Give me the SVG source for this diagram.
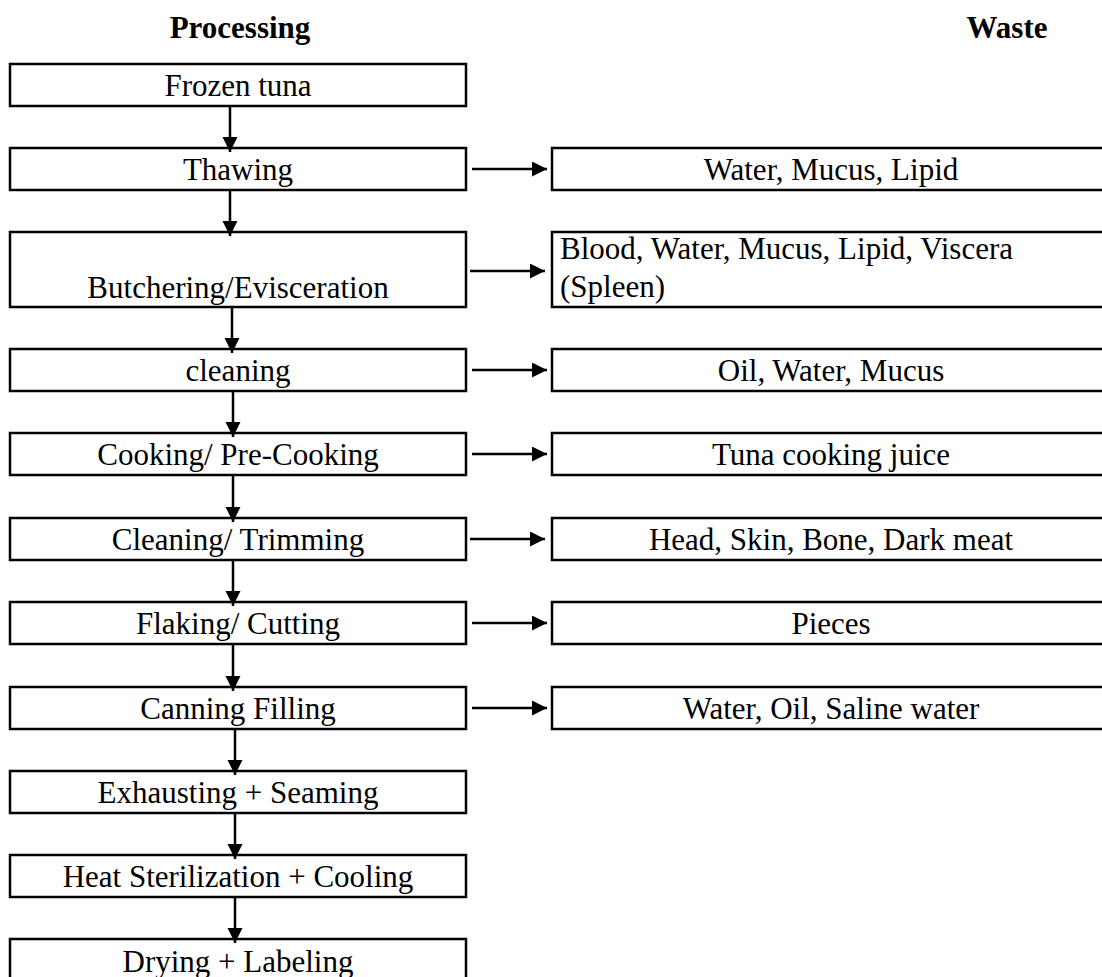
<svg xmlns="http://www.w3.org/2000/svg" width="1102" height="977" viewBox="0 0 1102 977">
<style>
.box{fill:#fff;stroke:#000;stroke-width:2.5}
.t{font-family:'Liberation Serif','Times New Roman','DejaVu Serif',serif;font-size:31px;fill:#000}
.c{text-anchor:middle}
.h{font-weight:bold}
.ln{stroke:#000;stroke-width:2.5;fill:none}
</style>
<defs>
<marker id="ah" markerUnits="userSpaceOnUse" markerWidth="16" markerHeight="16" refX="15" refY="7.5" orient="auto">
<path d="M0,0 L15,7.5 L0,15 Z" fill="#000"/>
</marker>
</defs>
<rect width="1102" height="977" fill="#fff"/>
<text class="t c h" x="240" y="38">Processing</text>
<text class="t c h" x="1007" y="38">Waste</text>
<g id="n1"><rect class="box" x="10" y="64" width="456" height="42"/><text class="t c" x="238" y="96">Frozen tuna</text></g>
<g id="n2"><rect class="box" x="10" y="148" width="456" height="42"/><text class="t c" x="238" y="180">Thawing</text></g>
<g id="n3"><rect class="box" x="10" y="232" width="456" height="75"/><text class="t c" x="238" y="298">Butchering/Evisceration</text></g>
<g id="n4"><rect class="box" x="10" y="349" width="456" height="42"/><text class="t c" x="238" y="381">cleaning</text></g>
<g id="n5"><rect class="box" x="10" y="433" width="456" height="42"/><text class="t c" x="238" y="465">Cooking/ Pre-Cooking</text></g>
<g id="n6"><rect class="box" x="10" y="518" width="456" height="42"/><text class="t c" x="238" y="550">Cleaning/ Trimming</text></g>
<g id="n7"><rect class="box" x="10" y="602" width="456" height="42"/><text class="t c" x="238" y="634">Flaking/ Cutting</text></g>
<g id="n8"><rect class="box" x="10" y="687" width="456" height="42"/><text class="t c" x="238" y="719">Canning Filling</text></g>
<g id="n9"><rect class="box" x="10" y="771" width="456" height="42"/><text class="t c" x="238" y="803">Exhausting + Seaming</text></g>
<g id="n10"><rect class="box" x="10" y="855" width="456" height="42"/><text class="t c" x="238" y="887">Heat Sterilization + Cooling</text></g>
<g id="n11"><rect class="box" x="10" y="939" width="456" height="42"/><text class="t c" x="238" y="972">Drying + Labeling</text></g>
<g id="w1"><rect class="box" x="552" y="148" width="560" height="42"/><text class="t c" x="831" y="180">Water, Mucus, Lipid</text></g>
<g id="w2"><rect class="box" x="552" y="232" width="560" height="75"/><text class="t" x="560" y="259">Blood, Water, Mucus, Lipid, Viscera</text><text class="t" x="560" y="297">(Spleen)</text></g>
<g id="w3"><rect class="box" x="552" y="349" width="560" height="42"/><text class="t c" x="831" y="381">Oil, Water, Mucus</text></g>
<g id="w4"><rect class="box" x="552" y="433" width="560" height="42"/><text class="t c" x="831" y="465">Tuna cooking juice</text></g>
<g id="w5"><rect class="box" x="552" y="518" width="560" height="42"/><text class="t c" x="831" y="550">Head, Skin, Bone, Dark meat</text></g>
<g id="w6"><rect class="box" x="552" y="602" width="560" height="42"/><text class="t c" x="831" y="634">Pieces</text></g>
<g id="w7"><rect class="box" x="552" y="687" width="560" height="42"/><text class="t c" x="831" y="719">Water, Oil, Saline water</text></g>
<g id="connectors">
<line class="ln" x1="230" y1="106" x2="230" y2="152" marker-end="url(#ah)"/>
<line class="ln" x1="230" y1="190" x2="230" y2="236" marker-end="url(#ah)"/>
<line class="ln" x1="232" y1="307" x2="232" y2="353" marker-end="url(#ah)"/>
<line class="ln" x1="233" y1="391" x2="233" y2="437" marker-end="url(#ah)"/>
<line class="ln" x1="233" y1="475" x2="233" y2="522" marker-end="url(#ah)"/>
<line class="ln" x1="233" y1="560" x2="233" y2="606" marker-end="url(#ah)"/>
<line class="ln" x1="233" y1="644" x2="233" y2="691" marker-end="url(#ah)"/>
<line class="ln" x1="235" y1="729" x2="235" y2="775" marker-end="url(#ah)"/>
<line class="ln" x1="235" y1="813" x2="235" y2="859" marker-end="url(#ah)"/>
<line class="ln" x1="235" y1="897" x2="235" y2="943" marker-end="url(#ah)"/>
<line class="ln" x1="472" y1="169" x2="547" y2="169" marker-end="url(#ah)"/>
<line class="ln" x1="470" y1="271" x2="545" y2="271" marker-end="url(#ah)"/>
<line class="ln" x1="472" y1="370" x2="547" y2="370" marker-end="url(#ah)"/>
<line class="ln" x1="472" y1="454" x2="547" y2="454" marker-end="url(#ah)"/>
<line class="ln" x1="470" y1="539" x2="545" y2="539" marker-end="url(#ah)"/>
<line class="ln" x1="472" y1="623" x2="547" y2="623" marker-end="url(#ah)"/>
<line class="ln" x1="472" y1="708" x2="547" y2="708" marker-end="url(#ah)"/>
</g>
</svg>
